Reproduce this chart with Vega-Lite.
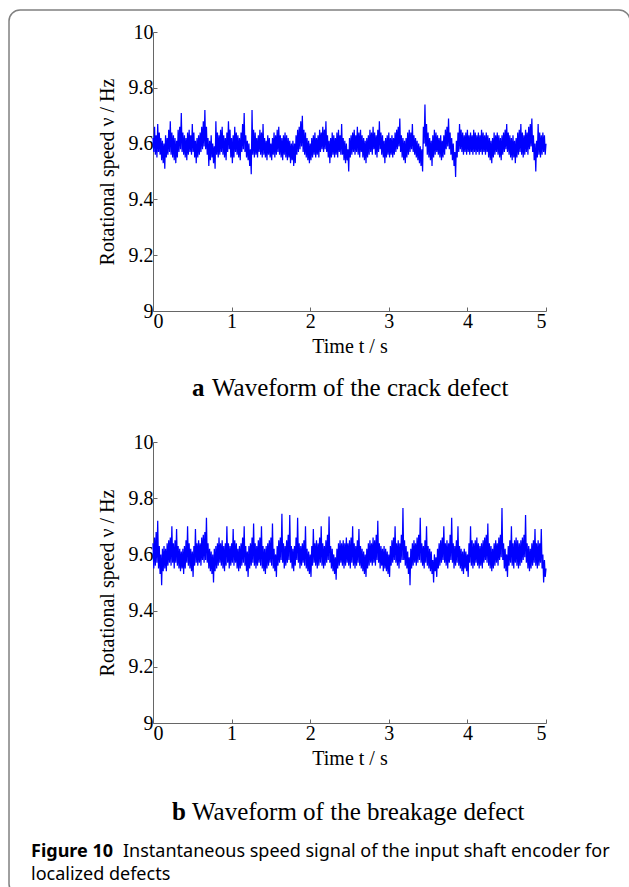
{
"$schema": "https://vega.github.io/schema/vega-lite/v6.json",
"background": "white",
"padding": {"left": 8, "top": 9, "right": 0, "bottom": 0},
"bounds": "flush",
"spacing": 131,
"config": {
  "view": {"stroke": null},
  "font": "Liberation Serif",
  "axis": {"grid": false, "domainColor": "#666", "tickColor": "#666", "tickSize": -4, "labelFont": "Liberation Serif", "labelFontSize": 20, "labelColor": "#000", "labelPadding": 4, "titleFont": "Liberation Serif", "titleFontSize": 20, "titleFontWeight": "normal", "titleColor": "#000"}
},
"datasets": {
"a": [
{"t":0.00,"v":9.62},{"t":0.01,"v":9.57},{"t":0.02,"v":9.66},{"t":0.03,"v":9.56},{"t":0.04,"v":9.63},{"t":0.05,"v":9.55},{"t":0.06,"v":9.67},{"t":0.07,"v":9.57},{"t":0.08,"v":9.64},{"t":0.09,"v":9.56},
{"t":0.10,"v":9.62},{"t":0.11,"v":9.54},{"t":0.12,"v":9.61},{"t":0.13,"v":9.53},{"t":0.14,"v":9.60},{"t":0.15,"v":9.51},{"t":0.16,"v":9.63},{"t":0.17,"v":9.55},{"t":0.18,"v":9.62},{"t":0.19,"v":9.56},
{"t":0.20,"v":9.65},{"t":0.21,"v":9.57},{"t":0.22,"v":9.68},{"t":0.23,"v":9.56},{"t":0.24,"v":9.64},{"t":0.25,"v":9.55},{"t":0.26,"v":9.63},{"t":0.27,"v":9.54},{"t":0.28,"v":9.62},{"t":0.29,"v":9.53},
{"t":0.30,"v":9.61},{"t":0.31,"v":9.55},{"t":0.32,"v":9.65},{"t":0.33,"v":9.57},{"t":0.34,"v":9.66},{"t":0.35,"v":9.58},{"t":0.36,"v":9.71},{"t":0.37,"v":9.57},{"t":0.38,"v":9.64},{"t":0.39,"v":9.56},
{"t":0.40,"v":9.63},{"t":0.41,"v":9.55},{"t":0.42,"v":9.62},{"t":0.43,"v":9.54},{"t":0.44,"v":9.64},{"t":0.45,"v":9.56},{"t":0.46,"v":9.65},{"t":0.47,"v":9.57},{"t":0.48,"v":9.63},{"t":0.49,"v":9.56},
{"t":0.50,"v":9.67},{"t":0.51,"v":9.57},{"t":0.52,"v":9.64},{"t":0.53,"v":9.55},{"t":0.54,"v":9.61},{"t":0.55,"v":9.53},{"t":0.56,"v":9.62},{"t":0.57,"v":9.55},{"t":0.58,"v":9.63},{"t":0.59,"v":9.56},
{"t":0.60,"v":9.64},{"t":0.61,"v":9.57},{"t":0.62,"v":9.66},{"t":0.63,"v":9.58},{"t":0.64,"v":9.68},{"t":0.65,"v":9.59},{"t":0.66,"v":9.72},{"t":0.67,"v":9.58},{"t":0.68,"v":9.66},{"t":0.69,"v":9.56},
{"t":0.70,"v":9.62},{"t":0.71,"v":9.52},{"t":0.72,"v":9.61},{"t":0.73,"v":9.54},{"t":0.74,"v":9.63},{"t":0.75,"v":9.55},{"t":0.76,"v":9.60},{"t":0.77,"v":9.53},{"t":0.78,"v":9.59},{"t":0.79,"v":9.51},
{"t":0.80,"v":9.68},{"t":0.81,"v":9.56},{"t":0.82,"v":9.64},{"t":0.83,"v":9.55},{"t":0.84,"v":9.63},{"t":0.85,"v":9.56},{"t":0.86,"v":9.65},{"t":0.87,"v":9.57},{"t":0.88,"v":9.66},{"t":0.89,"v":9.56},
{"t":0.90,"v":9.63},{"t":0.91,"v":9.55},{"t":0.92,"v":9.62},{"t":0.93,"v":9.54},{"t":0.94,"v":9.64},{"t":0.95,"v":9.57},{"t":0.96,"v":9.68},{"t":0.97,"v":9.58},{"t":0.98,"v":9.65},{"t":0.99,"v":9.55},
{"t":1.00,"v":9.62},{"t":1.01,"v":9.53},{"t":1.02,"v":9.63},{"t":1.03,"v":9.55},{"t":1.04,"v":9.66},{"t":1.05,"v":9.57},{"t":1.06,"v":9.64},{"t":1.07,"v":9.56},{"t":1.08,"v":9.63},{"t":1.09,"v":9.55},
{"t":1.10,"v":9.62},{"t":1.11,"v":9.54},{"t":1.12,"v":9.64},{"t":1.13,"v":9.57},{"t":1.14,"v":9.67},{"t":1.15,"v":9.58},{"t":1.16,"v":9.71},{"t":1.17,"v":9.57},{"t":1.18,"v":9.63},{"t":1.19,"v":9.55},
{"t":1.20,"v":9.61},{"t":1.21,"v":9.54},{"t":1.22,"v":9.60},{"t":1.23,"v":9.52},{"t":1.24,"v":9.58},{"t":1.25,"v":9.49},{"t":1.26,"v":9.72},{"t":1.27,"v":9.56},{"t":1.28,"v":9.65},{"t":1.29,"v":9.55},
{"t":1.30,"v":9.64},{"t":1.31,"v":9.56},{"t":1.32,"v":9.62},{"t":1.33,"v":9.55},{"t":1.34,"v":9.63},{"t":1.35,"v":9.57},{"t":1.36,"v":9.65},{"t":1.37,"v":9.56},{"t":1.38,"v":9.64},{"t":1.39,"v":9.55},
{"t":1.40,"v":9.67},{"t":1.41,"v":9.56},{"t":1.42,"v":9.62},{"t":1.43,"v":9.55},{"t":1.44,"v":9.61},{"t":1.45,"v":9.54},{"t":1.46,"v":9.63},{"t":1.47,"v":9.56},{"t":1.48,"v":9.62},{"t":1.49,"v":9.55},
{"t":1.50,"v":9.60},{"t":1.51,"v":9.54},{"t":1.52,"v":9.62},{"t":1.53,"v":9.56},{"t":1.54,"v":9.64},{"t":1.55,"v":9.55},{"t":1.56,"v":9.63},{"t":1.57,"v":9.56},{"t":1.58,"v":9.65},{"t":1.59,"v":9.57},
{"t":1.60,"v":9.66},{"t":1.61,"v":9.56},{"t":1.62,"v":9.63},{"t":1.63,"v":9.55},{"t":1.64,"v":9.62},{"t":1.65,"v":9.54},{"t":1.66,"v":9.63},{"t":1.67,"v":9.56},{"t":1.68,"v":9.64},{"t":1.69,"v":9.55},
{"t":1.70,"v":9.63},{"t":1.71,"v":9.54},{"t":1.72,"v":9.62},{"t":1.73,"v":9.55},{"t":1.74,"v":9.61},{"t":1.75,"v":9.53},{"t":1.76,"v":9.60},{"t":1.77,"v":9.54},{"t":1.78,"v":9.61},{"t":1.79,"v":9.52},
{"t":1.80,"v":9.60},{"t":1.81,"v":9.53},{"t":1.82,"v":9.63},{"t":1.83,"v":9.56},{"t":1.84,"v":9.65},{"t":1.85,"v":9.57},{"t":1.86,"v":9.66},{"t":1.87,"v":9.58},{"t":1.88,"v":9.68},{"t":1.89,"v":9.59},
{"t":1.90,"v":9.70},{"t":1.91,"v":9.57},{"t":1.92,"v":9.65},{"t":1.93,"v":9.56},{"t":1.94,"v":9.64},{"t":1.95,"v":9.55},{"t":1.96,"v":9.62},{"t":1.97,"v":9.54},{"t":1.98,"v":9.61},{"t":1.99,"v":9.53},
{"t":2.00,"v":9.60},{"t":2.01,"v":9.54},{"t":2.02,"v":9.62},{"t":2.03,"v":9.55},{"t":2.04,"v":9.63},{"t":2.05,"v":9.56},{"t":2.06,"v":9.64},{"t":2.07,"v":9.55},{"t":2.08,"v":9.62},{"t":2.09,"v":9.56},
{"t":2.10,"v":9.63},{"t":2.11,"v":9.55},{"t":2.12,"v":9.65},{"t":2.13,"v":9.57},{"t":2.14,"v":9.64},{"t":2.15,"v":9.58},{"t":2.16,"v":9.66},{"t":2.17,"v":9.57},{"t":2.18,"v":9.65},{"t":2.19,"v":9.58},
{"t":2.20,"v":9.68},{"t":2.21,"v":9.57},{"t":2.22,"v":9.63},{"t":2.23,"v":9.55},{"t":2.24,"v":9.61},{"t":2.25,"v":9.53},{"t":2.26,"v":9.62},{"t":2.27,"v":9.55},{"t":2.28,"v":9.64},{"t":2.29,"v":9.56},
{"t":2.30,"v":9.63},{"t":2.31,"v":9.55},{"t":2.32,"v":9.62},{"t":2.33,"v":9.56},{"t":2.34,"v":9.64},{"t":2.35,"v":9.55},{"t":2.36,"v":9.65},{"t":2.37,"v":9.57},{"t":2.38,"v":9.63},{"t":2.39,"v":9.56},
{"t":2.40,"v":9.67},{"t":2.41,"v":9.56},{"t":2.42,"v":9.62},{"t":2.43,"v":9.54},{"t":2.44,"v":9.61},{"t":2.45,"v":9.53},{"t":2.46,"v":9.60},{"t":2.47,"v":9.54},{"t":2.48,"v":9.58},{"t":2.49,"v":9.50},
{"t":2.50,"v":9.62},{"t":2.51,"v":9.55},{"t":2.52,"v":9.63},{"t":2.53,"v":9.56},{"t":2.54,"v":9.64},{"t":2.55,"v":9.57},{"t":2.56,"v":9.65},{"t":2.57,"v":9.56},{"t":2.58,"v":9.63},{"t":2.59,"v":9.57},
{"t":2.60,"v":9.66},{"t":2.61,"v":9.56},{"t":2.62,"v":9.64},{"t":2.63,"v":9.55},{"t":2.64,"v":9.65},{"t":2.65,"v":9.57},{"t":2.66,"v":9.63},{"t":2.67,"v":9.55},{"t":2.68,"v":9.62},{"t":2.69,"v":9.54},
{"t":2.70,"v":9.61},{"t":2.71,"v":9.53},{"t":2.72,"v":9.62},{"t":2.73,"v":9.55},{"t":2.74,"v":9.63},{"t":2.75,"v":9.56},{"t":2.76,"v":9.65},{"t":2.77,"v":9.57},{"t":2.78,"v":9.64},{"t":2.79,"v":9.56},
{"t":2.80,"v":9.66},{"t":2.81,"v":9.58},{"t":2.82,"v":9.64},{"t":2.83,"v":9.56},{"t":2.84,"v":9.63},{"t":2.85,"v":9.55},{"t":2.86,"v":9.65},{"t":2.87,"v":9.57},{"t":2.88,"v":9.68},{"t":2.89,"v":9.58},
{"t":2.90,"v":9.64},{"t":2.91,"v":9.56},{"t":2.92,"v":9.63},{"t":2.93,"v":9.55},{"t":2.94,"v":9.61},{"t":2.95,"v":9.53},{"t":2.96,"v":9.62},{"t":2.97,"v":9.55},{"t":2.98,"v":9.63},{"t":2.99,"v":9.56},
{"t":3.00,"v":9.64},{"t":3.01,"v":9.55},{"t":3.02,"v":9.62},{"t":3.03,"v":9.56},{"t":3.04,"v":9.63},{"t":3.05,"v":9.55},{"t":3.06,"v":9.62},{"t":3.07,"v":9.56},{"t":3.08,"v":9.64},{"t":3.09,"v":9.57},
{"t":3.10,"v":9.65},{"t":3.11,"v":9.58},{"t":3.12,"v":9.66},{"t":3.13,"v":9.59},{"t":3.14,"v":9.69},{"t":3.15,"v":9.57},{"t":3.16,"v":9.63},{"t":3.17,"v":9.55},{"t":3.18,"v":9.62},{"t":3.19,"v":9.54},
{"t":3.20,"v":9.61},{"t":3.21,"v":9.53},{"t":3.22,"v":9.62},{"t":3.23,"v":9.55},{"t":3.24,"v":9.64},{"t":3.25,"v":9.56},{"t":3.26,"v":9.65},{"t":3.27,"v":9.57},{"t":3.28,"v":9.64},{"t":3.29,"v":9.58},
{"t":3.30,"v":9.67},{"t":3.31,"v":9.57},{"t":3.32,"v":9.63},{"t":3.33,"v":9.56},{"t":3.34,"v":9.62},{"t":3.35,"v":9.55},{"t":3.36,"v":9.61},{"t":3.37,"v":9.54},{"t":3.38,"v":9.60},{"t":3.39,"v":9.53},
{"t":3.40,"v":9.59},{"t":3.41,"v":9.52},{"t":3.42,"v":9.58},{"t":3.43,"v":9.50},{"t":3.44,"v":9.66},{"t":3.45,"v":9.60},{"t":3.46,"v":9.74},{"t":3.47,"v":9.59},{"t":3.48,"v":9.67},{"t":3.49,"v":9.56},
{"t":3.50,"v":9.64},{"t":3.51,"v":9.55},{"t":3.52,"v":9.62},{"t":3.53,"v":9.54},{"t":3.54,"v":9.61},{"t":3.55,"v":9.52},{"t":3.56,"v":9.63},{"t":3.57,"v":9.55},{"t":3.58,"v":9.65},{"t":3.59,"v":9.56},
{"t":3.60,"v":9.64},{"t":3.61,"v":9.57},{"t":3.62,"v":9.63},{"t":3.63,"v":9.56},{"t":3.64,"v":9.62},{"t":3.65,"v":9.55},{"t":3.66,"v":9.63},{"t":3.67,"v":9.54},{"t":3.68,"v":9.61},{"t":3.69,"v":9.55},
{"t":3.70,"v":9.63},{"t":3.71,"v":9.56},{"t":3.72,"v":9.65},{"t":3.73,"v":9.58},{"t":3.74,"v":9.66},{"t":3.75,"v":9.59},{"t":3.76,"v":9.69},{"t":3.77,"v":9.58},{"t":3.78,"v":9.64},{"t":3.79,"v":9.56},
{"t":3.80,"v":9.62},{"t":3.81,"v":9.54},{"t":3.82,"v":9.60},{"t":3.83,"v":9.52},{"t":3.84,"v":9.57},{"t":3.85,"v":9.48},{"t":3.86,"v":9.61},{"t":3.87,"v":9.55},{"t":3.88,"v":9.64},{"t":3.89,"v":9.57},
{"t":3.90,"v":9.67},{"t":3.91,"v":9.58},{"t":3.92,"v":9.65},{"t":3.93,"v":9.57},{"t":3.94,"v":9.64},{"t":3.95,"v":9.56},{"t":3.96,"v":9.63},{"t":3.97,"v":9.57},{"t":3.98,"v":9.64},{"t":3.99,"v":9.56},
{"t":4.00,"v":9.65},{"t":4.01,"v":9.57},{"t":4.02,"v":9.63},{"t":4.03,"v":9.56},{"t":4.04,"v":9.64},{"t":4.05,"v":9.57},{"t":4.06,"v":9.63},{"t":4.07,"v":9.56},{"t":4.08,"v":9.65},{"t":4.09,"v":9.57},
{"t":4.10,"v":9.64},{"t":4.11,"v":9.56},{"t":4.12,"v":9.63},{"t":4.13,"v":9.57},{"t":4.14,"v":9.64},{"t":4.15,"v":9.56},{"t":4.16,"v":9.63},{"t":4.17,"v":9.57},{"t":4.18,"v":9.65},{"t":4.19,"v":9.56},
{"t":4.20,"v":9.64},{"t":4.21,"v":9.57},{"t":4.22,"v":9.63},{"t":4.23,"v":9.56},{"t":4.24,"v":9.64},{"t":4.25,"v":9.57},{"t":4.26,"v":9.63},{"t":4.27,"v":9.55},{"t":4.28,"v":9.62},{"t":4.29,"v":9.54},
{"t":4.30,"v":9.61},{"t":4.31,"v":9.53},{"t":4.32,"v":9.62},{"t":4.33,"v":9.55},{"t":4.34,"v":9.64},{"t":4.35,"v":9.56},{"t":4.36,"v":9.63},{"t":4.37,"v":9.57},{"t":4.38,"v":9.64},{"t":4.39,"v":9.56},
{"t":4.40,"v":9.63},{"t":4.41,"v":9.55},{"t":4.42,"v":9.62},{"t":4.43,"v":9.54},{"t":4.44,"v":9.63},{"t":4.45,"v":9.56},{"t":4.46,"v":9.64},{"t":4.47,"v":9.57},{"t":4.48,"v":9.65},{"t":4.49,"v":9.58},
{"t":4.50,"v":9.67},{"t":4.51,"v":9.57},{"t":4.52,"v":9.64},{"t":4.53,"v":9.56},{"t":4.54,"v":9.63},{"t":4.55,"v":9.55},{"t":4.56,"v":9.62},{"t":4.57,"v":9.54},{"t":4.58,"v":9.63},{"t":4.59,"v":9.55},
{"t":4.60,"v":9.61},{"t":4.61,"v":9.53},{"t":4.62,"v":9.62},{"t":4.63,"v":9.55},{"t":4.64,"v":9.64},{"t":4.65,"v":9.56},{"t":4.66,"v":9.65},{"t":4.67,"v":9.57},{"t":4.68,"v":9.67},{"t":4.69,"v":9.56},
{"t":4.70,"v":9.64},{"t":4.71,"v":9.55},{"t":4.72,"v":9.63},{"t":4.73,"v":9.56},{"t":4.74,"v":9.65},{"t":4.75,"v":9.57},{"t":4.76,"v":9.64},{"t":4.77,"v":9.56},{"t":4.78,"v":9.66},{"t":4.79,"v":9.58},
{"t":4.80,"v":9.67},{"t":4.81,"v":9.59},{"t":4.82,"v":9.69},{"t":4.83,"v":9.57},{"t":4.84,"v":9.63},{"t":4.85,"v":9.54},{"t":4.86,"v":9.60},{"t":4.87,"v":9.50},{"t":4.88,"v":9.61},{"t":4.89,"v":9.55},
{"t":4.90,"v":9.67},{"t":4.91,"v":9.56},{"t":4.92,"v":9.64},{"t":4.93,"v":9.55},{"t":4.94,"v":9.63},{"t":4.95,"v":9.56},{"t":4.96,"v":9.64},{"t":4.97,"v":9.57},{"t":4.98,"v":9.63},{"t":4.99,"v":9.56},
{"t":5.00,"v":9.60}
],
"b": [
{"t":0.00,"v":9.64},{"t":0.01,"v":9.55},{"t":0.02,"v":9.66},{"t":0.03,"v":9.56},{"t":0.04,"v":9.68},{"t":0.05,"v":9.57},{"t":0.06,"v":9.72},{"t":0.07,"v":9.55},{"t":0.08,"v":9.63},{"t":0.09,"v":9.53},
{"t":0.10,"v":9.60},{"t":0.11,"v":9.49},{"t":0.12,"v":9.62},{"t":0.13,"v":9.54},{"t":0.14,"v":9.63},{"t":0.15,"v":9.55},{"t":0.16,"v":9.62},{"t":0.17,"v":9.54},{"t":0.18,"v":9.64},{"t":0.19,"v":9.56},
{"t":0.20,"v":9.65},{"t":0.21,"v":9.57},{"t":0.22,"v":9.66},{"t":0.23,"v":9.56},{"t":0.24,"v":9.70},{"t":0.25,"v":9.57},{"t":0.26,"v":9.64},{"t":0.27,"v":9.55},{"t":0.28,"v":9.65},{"t":0.29,"v":9.57},
{"t":0.30,"v":9.69},{"t":0.31,"v":9.56},{"t":0.32,"v":9.63},{"t":0.33,"v":9.55},{"t":0.34,"v":9.62},{"t":0.35,"v":9.54},{"t":0.36,"v":9.61},{"t":0.37,"v":9.55},{"t":0.38,"v":9.62},{"t":0.39,"v":9.53},
{"t":0.40,"v":9.63},{"t":0.41,"v":9.55},{"t":0.42,"v":9.65},{"t":0.43,"v":9.57},{"t":0.44,"v":9.70},{"t":0.45,"v":9.56},{"t":0.46,"v":9.64},{"t":0.47,"v":9.55},{"t":0.48,"v":9.62},{"t":0.49,"v":9.54},
{"t":0.50,"v":9.61},{"t":0.51,"v":9.52},{"t":0.52,"v":9.63},{"t":0.53,"v":9.56},{"t":0.54,"v":9.69},{"t":0.55,"v":9.57},{"t":0.56,"v":9.64},{"t":0.57,"v":9.56},{"t":0.58,"v":9.65},{"t":0.59,"v":9.57},
{"t":0.60,"v":9.64},{"t":0.61,"v":9.56},{"t":0.62,"v":9.66},{"t":0.63,"v":9.58},{"t":0.64,"v":9.67},{"t":0.65,"v":9.57},{"t":0.66,"v":9.68},{"t":0.67,"v":9.58},{"t":0.68,"v":9.73},{"t":0.69,"v":9.57},
{"t":0.70,"v":9.64},{"t":0.71,"v":9.55},{"t":0.72,"v":9.62},{"t":0.73,"v":9.54},{"t":0.74,"v":9.61},{"t":0.75,"v":9.53},{"t":0.76,"v":9.60},{"t":0.77,"v":9.50},{"t":0.78,"v":9.62},{"t":0.79,"v":9.54},
{"t":0.80,"v":9.63},{"t":0.81,"v":9.55},{"t":0.82,"v":9.64},{"t":0.83,"v":9.56},{"t":0.84,"v":9.66},{"t":0.85,"v":9.57},{"t":0.86,"v":9.64},{"t":0.87,"v":9.56},{"t":0.88,"v":9.65},{"t":0.89,"v":9.55},
{"t":0.90,"v":9.63},{"t":0.91,"v":9.54},{"t":0.92,"v":9.64},{"t":0.93,"v":9.56},{"t":0.94,"v":9.70},{"t":0.95,"v":9.57},{"t":0.96,"v":9.64},{"t":0.97,"v":9.55},{"t":0.98,"v":9.63},{"t":0.99,"v":9.56},
{"t":1.00,"v":9.64},{"t":1.01,"v":9.57},{"t":1.02,"v":9.69},{"t":1.03,"v":9.56},{"t":1.04,"v":9.65},{"t":1.05,"v":9.57},{"t":1.06,"v":9.64},{"t":1.07,"v":9.55},{"t":1.08,"v":9.62},{"t":1.09,"v":9.54},
{"t":1.10,"v":9.63},{"t":1.11,"v":9.55},{"t":1.12,"v":9.64},{"t":1.13,"v":9.56},{"t":1.14,"v":9.66},{"t":1.15,"v":9.57},{"t":1.16,"v":9.70},{"t":1.17,"v":9.56},{"t":1.18,"v":9.63},{"t":1.19,"v":9.54},
{"t":1.20,"v":9.61},{"t":1.21,"v":9.52},{"t":1.22,"v":9.63},{"t":1.23,"v":9.55},{"t":1.24,"v":9.64},{"t":1.25,"v":9.56},{"t":1.26,"v":9.66},{"t":1.27,"v":9.57},{"t":1.28,"v":9.71},{"t":1.29,"v":9.56},
{"t":1.30,"v":9.64},{"t":1.31,"v":9.55},{"t":1.32,"v":9.63},{"t":1.33,"v":9.56},{"t":1.34,"v":9.65},{"t":1.35,"v":9.57},{"t":1.36,"v":9.66},{"t":1.37,"v":9.56},{"t":1.38,"v":9.70},{"t":1.39,"v":9.55},
{"t":1.40,"v":9.63},{"t":1.41,"v":9.54},{"t":1.42,"v":9.62},{"t":1.43,"v":9.53},{"t":1.44,"v":9.63},{"t":1.45,"v":9.55},{"t":1.46,"v":9.64},{"t":1.47,"v":9.56},{"t":1.48,"v":9.65},{"t":1.49,"v":9.57},
{"t":1.50,"v":9.66},{"t":1.51,"v":9.56},{"t":1.52,"v":9.71},{"t":1.53,"v":9.55},{"t":1.54,"v":9.62},{"t":1.55,"v":9.54},{"t":1.56,"v":9.60},{"t":1.57,"v":9.52},{"t":1.58,"v":9.63},{"t":1.59,"v":9.56},
{"t":1.60,"v":9.65},{"t":1.61,"v":9.57},{"t":1.62,"v":9.66},{"t":1.63,"v":9.58},{"t":1.64,"v":9.745},{"t":1.65,"v":9.57},{"t":1.66,"v":9.64},{"t":1.67,"v":9.55},{"t":1.68,"v":9.63},{"t":1.69,"v":9.56},
{"t":1.70,"v":9.65},{"t":1.71,"v":9.57},{"t":1.72,"v":9.67},{"t":1.73,"v":9.58},{"t":1.74,"v":9.74},{"t":1.75,"v":9.57},{"t":1.76,"v":9.63},{"t":1.77,"v":9.55},{"t":1.78,"v":9.62},{"t":1.79,"v":9.54},
{"t":1.80,"v":9.63},{"t":1.81,"v":9.56},{"t":1.82,"v":9.66},{"t":1.83,"v":9.58},{"t":1.84,"v":9.73},{"t":1.85,"v":9.57},{"t":1.86,"v":9.64},{"t":1.87,"v":9.55},{"t":1.88,"v":9.63},{"t":1.89,"v":9.56},
{"t":1.90,"v":9.64},{"t":1.91,"v":9.57},{"t":1.92,"v":9.65},{"t":1.93,"v":9.56},{"t":1.94,"v":9.70},{"t":1.95,"v":9.55},{"t":1.96,"v":9.62},{"t":1.97,"v":9.54},{"t":1.98,"v":9.61},{"t":1.99,"v":9.53},
{"t":2.00,"v":9.60},{"t":2.01,"v":9.52},{"t":2.02,"v":9.63},{"t":2.03,"v":9.56},{"t":2.04,"v":9.69},{"t":2.05,"v":9.57},{"t":2.06,"v":9.64},{"t":2.07,"v":9.56},{"t":2.08,"v":9.65},{"t":2.09,"v":9.55},
{"t":2.10,"v":9.64},{"t":2.11,"v":9.56},{"t":2.12,"v":9.66},{"t":2.13,"v":9.57},{"t":2.14,"v":9.70},{"t":2.15,"v":9.56},{"t":2.16,"v":9.64},{"t":2.17,"v":9.55},{"t":2.18,"v":9.63},{"t":2.19,"v":9.56},
{"t":2.20,"v":9.65},{"t":2.21,"v":9.57},{"t":2.22,"v":9.67},{"t":2.23,"v":9.58},{"t":2.24,"v":9.735},{"t":2.25,"v":9.57},{"t":2.26,"v":9.63},{"t":2.27,"v":9.55},{"t":2.28,"v":9.62},{"t":2.29,"v":9.54},
{"t":2.30,"v":9.60},{"t":2.31,"v":9.53},{"t":2.32,"v":9.59},{"t":2.33,"v":9.51},{"t":2.34,"v":9.62},{"t":2.35,"v":9.55},{"t":2.36,"v":9.64},{"t":2.37,"v":9.56},{"t":2.38,"v":9.65},{"t":2.39,"v":9.57},
{"t":2.40,"v":9.64},{"t":2.41,"v":9.56},{"t":2.42,"v":9.65},{"t":2.43,"v":9.55},{"t":2.44,"v":9.64},{"t":2.45,"v":9.56},{"t":2.46,"v":9.66},{"t":2.47,"v":9.57},{"t":2.48,"v":9.64},{"t":2.49,"v":9.56},
{"t":2.50,"v":9.65},{"t":2.51,"v":9.55},{"t":2.52,"v":9.66},{"t":2.53,"v":9.57},{"t":2.54,"v":9.70},{"t":2.55,"v":9.56},{"t":2.56,"v":9.64},{"t":2.57,"v":9.55},{"t":2.58,"v":9.63},{"t":2.59,"v":9.56},
{"t":2.60,"v":9.65},{"t":2.61,"v":9.57},{"t":2.62,"v":9.69},{"t":2.63,"v":9.56},{"t":2.64,"v":9.63},{"t":2.65,"v":9.55},{"t":2.66,"v":9.62},{"t":2.67,"v":9.54},{"t":2.68,"v":9.61},{"t":2.69,"v":9.53},
{"t":2.70,"v":9.60},{"t":2.71,"v":9.52},{"t":2.72,"v":9.62},{"t":2.73,"v":9.55},{"t":2.74,"v":9.64},{"t":2.75,"v":9.56},{"t":2.76,"v":9.65},{"t":2.77,"v":9.57},{"t":2.78,"v":9.64},{"t":2.79,"v":9.56},
{"t":2.80,"v":9.66},{"t":2.81,"v":9.57},{"t":2.82,"v":9.65},{"t":2.83,"v":9.56},{"t":2.84,"v":9.67},{"t":2.85,"v":9.58},{"t":2.86,"v":9.72},{"t":2.87,"v":9.57},{"t":2.88,"v":9.64},{"t":2.89,"v":9.55},
{"t":2.90,"v":9.63},{"t":2.91,"v":9.56},{"t":2.92,"v":9.62},{"t":2.93,"v":9.54},{"t":2.94,"v":9.63},{"t":2.95,"v":9.55},{"t":2.96,"v":9.62},{"t":2.97,"v":9.54},{"t":2.98,"v":9.61},{"t":2.99,"v":9.53},
{"t":3.00,"v":9.60},{"t":3.01,"v":9.52},{"t":3.02,"v":9.63},{"t":3.03,"v":9.56},{"t":3.04,"v":9.65},{"t":3.05,"v":9.57},{"t":3.06,"v":9.66},{"t":3.07,"v":9.58},{"t":3.08,"v":9.70},{"t":3.09,"v":9.57},
{"t":3.10,"v":9.64},{"t":3.11,"v":9.56},{"t":3.12,"v":9.65},{"t":3.13,"v":9.55},{"t":3.14,"v":9.64},{"t":3.15,"v":9.57},{"t":3.16,"v":9.67},{"t":3.17,"v":9.58},{"t":3.18,"v":9.765},{"t":3.19,"v":9.58},
{"t":3.20,"v":9.65},{"t":3.21,"v":9.56},{"t":3.22,"v":9.63},{"t":3.23,"v":9.55},{"t":3.24,"v":9.61},{"t":3.25,"v":9.53},{"t":3.26,"v":9.59},{"t":3.27,"v":9.49},{"t":3.28,"v":9.62},{"t":3.29,"v":9.55},
{"t":3.30,"v":9.64},{"t":3.31,"v":9.56},{"t":3.32,"v":9.65},{"t":3.33,"v":9.57},{"t":3.34,"v":9.64},{"t":3.35,"v":9.56},{"t":3.36,"v":9.66},{"t":3.37,"v":9.57},{"t":3.38,"v":9.67},{"t":3.39,"v":9.58},
{"t":3.40,"v":9.73},{"t":3.41,"v":9.57},{"t":3.42,"v":9.64},{"t":3.43,"v":9.56},{"t":3.44,"v":9.63},{"t":3.45,"v":9.55},{"t":3.46,"v":9.65},{"t":3.47,"v":9.57},{"t":3.48,"v":9.70},{"t":3.49,"v":9.56},
{"t":3.50,"v":9.63},{"t":3.51,"v":9.55},{"t":3.52,"v":9.62},{"t":3.53,"v":9.54},{"t":3.54,"v":9.61},{"t":3.55,"v":9.53},{"t":3.56,"v":9.58},{"t":3.57,"v":9.50},{"t":3.58,"v":9.60},{"t":3.59,"v":9.54},
{"t":3.60,"v":9.59},{"t":3.61,"v":9.52},{"t":3.62,"v":9.62},{"t":3.63,"v":9.55},{"t":3.64,"v":9.64},{"t":3.65,"v":9.56},{"t":3.66,"v":9.65},{"t":3.67,"v":9.57},{"t":3.68,"v":9.66},{"t":3.69,"v":9.58},
{"t":3.70,"v":9.70},{"t":3.71,"v":9.57},{"t":3.72,"v":9.64},{"t":3.73,"v":9.56},{"t":3.74,"v":9.65},{"t":3.75,"v":9.55},{"t":3.76,"v":9.64},{"t":3.77,"v":9.57},{"t":3.78,"v":9.67},{"t":3.79,"v":9.58},
{"t":3.80,"v":9.73},{"t":3.81,"v":9.57},{"t":3.82,"v":9.64},{"t":3.83,"v":9.55},{"t":3.84,"v":9.63},{"t":3.85,"v":9.56},{"t":3.86,"v":9.65},{"t":3.87,"v":9.57},{"t":3.88,"v":9.70},{"t":3.89,"v":9.56},
{"t":3.90,"v":9.63},{"t":3.91,"v":9.55},{"t":3.92,"v":9.62},{"t":3.93,"v":9.54},{"t":3.94,"v":9.61},{"t":3.95,"v":9.53},{"t":3.96,"v":9.62},{"t":3.97,"v":9.55},{"t":3.98,"v":9.61},{"t":3.99,"v":9.54},
{"t":4.00,"v":9.60},{"t":4.01,"v":9.52},{"t":4.02,"v":9.64},{"t":4.03,"v":9.57},{"t":4.04,"v":9.70},{"t":4.05,"v":9.56},{"t":4.06,"v":9.65},{"t":4.07,"v":9.55},{"t":4.08,"v":9.64},{"t":4.09,"v":9.56},
{"t":4.10,"v":9.65},{"t":4.11,"v":9.57},{"t":4.12,"v":9.66},{"t":4.13,"v":9.56},{"t":4.14,"v":9.64},{"t":4.15,"v":9.55},{"t":4.16,"v":9.63},{"t":4.17,"v":9.56},{"t":4.18,"v":9.64},{"t":4.19,"v":9.55},
{"t":4.20,"v":9.65},{"t":4.21,"v":9.57},{"t":4.22,"v":9.66},{"t":4.23,"v":9.58},{"t":4.24,"v":9.67},{"t":4.25,"v":9.57},{"t":4.26,"v":9.71},{"t":4.27,"v":9.56},{"t":4.28,"v":9.64},{"t":4.29,"v":9.55},
{"t":4.30,"v":9.63},{"t":4.31,"v":9.54},{"t":4.32,"v":9.62},{"t":4.33,"v":9.55},{"t":4.34,"v":9.64},{"t":4.35,"v":9.56},{"t":4.36,"v":9.65},{"t":4.37,"v":9.57},{"t":4.38,"v":9.64},{"t":4.39,"v":9.56},
{"t":4.40,"v":9.66},{"t":4.41,"v":9.58},{"t":4.42,"v":9.67},{"t":4.43,"v":9.59},{"t":4.44,"v":9.765},{"t":4.45,"v":9.58},{"t":4.46,"v":9.64},{"t":4.47,"v":9.55},{"t":4.48,"v":9.62},{"t":4.49,"v":9.54},
{"t":4.50,"v":9.60},{"t":4.51,"v":9.52},{"t":4.52,"v":9.63},{"t":4.53,"v":9.56},{"t":4.54,"v":9.65},{"t":4.55,"v":9.57},{"t":4.56,"v":9.70},{"t":4.57,"v":9.56},{"t":4.58,"v":9.64},{"t":4.59,"v":9.55},
{"t":4.60,"v":9.65},{"t":4.61,"v":9.57},{"t":4.62,"v":9.66},{"t":4.63,"v":9.56},{"t":4.64,"v":9.65},{"t":4.65,"v":9.55},{"t":4.66,"v":9.64},{"t":4.67,"v":9.56},{"t":4.68,"v":9.65},{"t":4.69,"v":9.57},
{"t":4.70,"v":9.66},{"t":4.71,"v":9.58},{"t":4.72,"v":9.67},{"t":4.73,"v":9.59},{"t":4.74,"v":9.74},{"t":4.75,"v":9.57},{"t":4.76,"v":9.64},{"t":4.77,"v":9.55},{"t":4.78,"v":9.63},{"t":4.79,"v":9.54},
{"t":4.80,"v":9.62},{"t":4.81,"v":9.55},{"t":4.82,"v":9.64},{"t":4.83,"v":9.56},{"t":4.84,"v":9.65},{"t":4.85,"v":9.57},{"t":4.86,"v":9.69},{"t":4.87,"v":9.56},{"t":4.88,"v":9.64},{"t":4.89,"v":9.55},
{"t":4.90,"v":9.65},{"t":4.91,"v":9.56},{"t":4.92,"v":9.64},{"t":4.93,"v":9.57},{"t":4.94,"v":9.69},{"t":4.95,"v":9.55},{"t":4.96,"v":9.60},{"t":4.97,"v":9.50},{"t":4.98,"v":9.58},{"t":4.99,"v":9.52},
{"t":5.00,"v":9.55}
]
},
"vconcat": [
{
  "width": 393, "height": 279,
  "layer": [
    {
      "data": {"name": "a"},
      "mark": {"type": "line", "color": "#0000ff", "strokeWidth": 1.25},
      "encoding": {
        "x": {"field": "t", "type": "quantitative", "scale": {"domain": [0, 5]}, "axis": {"title": "Time t / s", "values": [0,1,2,3,4,5], "format": "d", "titlePadding": 5}},
        "y": {"field": "v", "type": "quantitative", "scale": {"domain": [9, 10], "zero": false}, "axis": {"title": "Rotational speed ν / Hz", "values": [9,9.2,9.4,9.6,9.8,10], "format": "~g", "titlePadding": 11}}
      }
    },
    {
      "data": {"values": [{"label": "a"}]},
      "mark": {"type": "text", "font": "Liberation Serif", "fontSize": 25, "fontWeight": "bold", "align": "left", "baseline": "alphabetic", "color": "#000"},
      "encoding": {"x": {"datum": 0.496, "type": "quantitative"}, "y": {"datum": 8.695, "type": "quantitative"}, "text": {"field": "label"}}
    },
    {
      "data": {"values": [{"label": "Waveform of the crack defect"}]},
      "mark": {"type": "text", "font": "Liberation Serif", "fontSize": 25, "align": "left", "baseline": "alphabetic", "color": "#000"},
      "encoding": {"x": {"datum": 0.75, "type": "quantitative"}, "y": {"datum": 8.695, "type": "quantitative"}, "text": {"field": "label"}}
    },
    {
      "data": {"values": [{"frame": "card"}]},
      "mark": {"type": "rect", "filled": false, "stroke": "#808080", "strokeWidth": 1.5, "cornerRadius": 11},
      "encoding": {"x": {"datum": -1.832, "type": "quantitative", "scale": {"domain": [0, 5]}}, "x2": {"datum": 6.069}, "y": {"datum": 10.079, "type": "quantitative", "scale": {"domain": [9, 10], "zero": false}}, "y2": {"datum": 6.907}}
    }
  ]
},
{
  "width": 393, "height": 281,
  "layer": [
    {
      "data": {"name": "b"},
      "mark": {"type": "line", "color": "#0000ff", "strokeWidth": 1.25},
      "encoding": {
        "x": {"field": "t", "type": "quantitative", "scale": {"domain": [0, 5]}, "axis": {"title": "Time t / s", "values": [0,1,2,3,4,5], "format": "d", "titlePadding": 5}},
        "y": {"field": "v", "type": "quantitative", "scale": {"domain": [9, 10]}, "axis": {"title": "Rotational speed ν / Hz", "values": [9,9.2,9.4,9.6,9.8,10], "format": "~g", "titlePadding": 11}}
      }
    },
    {
      "data": {"values": [{"label": "b"}]},
      "mark": {"type": "text", "font": "Liberation Serif", "fontSize": 25, "fontWeight": "bold", "align": "left", "baseline": "alphabetic", "color": "#000"},
      "encoding": {"x": {"datum": 0.242, "type": "quantitative"}, "y": {"datum": 8.655, "type": "quantitative"}, "text": {"field": "label"}}
    },
    {
      "data": {"values": [{"label": "Waveform of the breakage defect"}]},
      "mark": {"type": "text", "font": "Liberation Serif", "fontSize": 25, "align": "left", "baseline": "alphabetic", "color": "#000"},
      "encoding": {"x": {"datum": 0.496, "type": "quantitative"}, "y": {"datum": 8.655, "type": "quantitative"}, "text": {"field": "label"}}
    },
    {
      "data": {"values": [{"label": "Figure 10"}]},
      "mark": {"type": "text", "font": "Noto Sans", "fontSize": 18, "fontWeight": "bold", "align": "left", "baseline": "alphabetic", "color": "#000"},
      "encoding": {"x": {"datum": -1.552, "type": "quantitative"}, "y": {"datum": 8.523, "type": "quantitative"}, "text": {"field": "label"}}
    },
    {
      "data": {"values": [{"label": "Instantaneous speed signal of the input shaft encoder for"}]},
      "mark": {"type": "text", "font": "Noto Sans", "fontSize": 18, "align": "left", "baseline": "alphabetic", "color": "#000"},
      "encoding": {"x": {"datum": -0.382, "type": "quantitative"}, "y": {"datum": 8.523, "type": "quantitative"}, "text": {"field": "label"}}
    },
    {
      "data": {"values": [{"label": "localized defects"}]},
      "mark": {"type": "text", "font": "Noto Sans", "fontSize": 18, "align": "left", "baseline": "alphabetic", "color": "#000"},
      "encoding": {"x": {"datum": -1.552, "type": "quantitative"}, "y": {"datum": 8.441, "type": "quantitative"}, "text": {"field": "label"}}
    }
  ]
}
]
}
